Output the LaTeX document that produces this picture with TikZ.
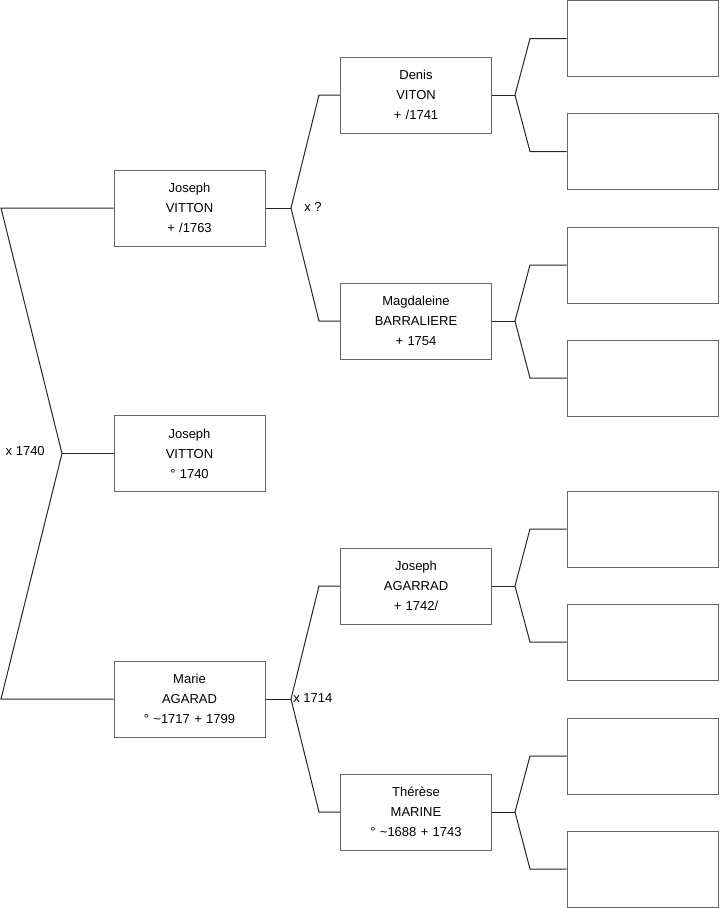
\documentclass[tikz,border=0pt]{standalone}
\usepackage{fontspec}
\setmainfont{Liberation Sans}
\usetikzlibrary{positioning}

\begin{document}
\begin{tikzpicture}[
    x=0.75pt, y=-0.75pt,
    person/.style={rectangle, draw=black!60, line width=0.75pt, minimum width=113.25pt, minimum height=57pt, text width=110pt, align=center, inner sep=0pt, font=\fontsize{9.75}{15}\selectfont},
    union/.style={inner sep=0pt, font=\fontsize{9.75}{12}\selectfont},
    link/.style={draw=black!85, line width=0.75pt}
]
\useasboundingbox (0,0) rectangle (719,908);

% generation 0
\node[person] (father) at (189.5,208) {Joseph\\VITTON\\+ /1763};
\node[person] (child) at (189.5,453.5) {Joseph\\VITTON\\° 1740};
\node[person] (mother) at (189.5,699) {Marie\\AGARAD\\° \textasciitilde1717 + 1799};

% generation 1
\node[person] (ff) at (416,95) {Denis\\VITON\\+ /1741};
\node[person] (fm) at (416,321) {Magdaleine\\BARRALIERE\\+ 1754};
\node[person] (mf) at (416,586) {Joseph\\AGARRAD\\+ 1742/};
\node[person] (mm) at (416,812) {Thérèse\\MARINE\\° \textasciitilde1688 + 1743};

% generation 2 (empty)
\node[person] (fff) at (642.5,38.5) {};
\node[person] (ffm) at (642.5,151.5) {};
\node[person] (fmf) at (642.5,265) {};
\node[person] (fmm) at (642.5,378) {};
\node[person] (mff) at (642.5,529) {};
\node[person] (mfm) at (642.5,642) {};
\node[person] (mmf) at (642.5,756) {};
\node[person] (mmm) at (642.5,869) {};

% bracket points
\coordinate (u0) at (62,453.5);
\coordinate (u0t) at (1,208);
\coordinate (u0b) at (1,699);
\coordinate (u1) at (291,208);
\coordinate (u1t) at (319,95);
\coordinate (u1b) at (319,321);
\coordinate (u2) at (291,699);
\coordinate (u2t) at (319,586);
\coordinate (u2b) at (319,812);
\coordinate (u3) at (515,95);
\coordinate (u3t) at (530,38.5);
\coordinate (u3b) at (530,151.5);
\coordinate (u4) at (515,321);
\coordinate (u4t) at (530,265);
\coordinate (u4b) at (530,378);
\coordinate (u5) at (515,586);
\coordinate (u5t) at (530,529);
\coordinate (u5b) at (530,642);
\coordinate (u6) at (515,812);
\coordinate (u6t) at (530,756);
\coordinate (u6b) at (530,869);

% marriages
\node[union, anchor=east] (m0) at (45,451) {x 1740};
\node[union, anchor=west] (m1) at (304,207) {x ?};
\node[union, anchor=west] (m2) at (293,698) {x 1714};

% connectors
\draw[link] (father.west) -- (u0t) -- (u0) -- (u0b) -- (mother.west);
\draw[link] (u0) -- (child.west);

\draw[link] (father.east) -- (u1);
\draw[link] (ff.west) -- (u1t) -- (u1) -- (u1b) -- (fm.west);
\draw[link] (mother.east) -- (u2);
\draw[link] (mf.west) -- (u2t) -- (u2) -- (u2b) -- (mm.west);

\draw[link] (ff.east) -- (u3);
\draw[link] (fff.west) -- (u3t) -- (u3) -- (u3b) -- (ffm.west);
\draw[link] (fm.east) -- (u4);
\draw[link] (fmf.west) -- (u4t) -- (u4) -- (u4b) -- (fmm.west);
\draw[link] (mf.east) -- (u5);
\draw[link] (mff.west) -- (u5t) -- (u5) -- (u5b) -- (mfm.west);
\draw[link] (mm.east) -- (u6);
\draw[link] (mmf.west) -- (u6t) -- (u6) -- (u6b) -- (mmm.west);
\end{tikzpicture}
\end{document}
